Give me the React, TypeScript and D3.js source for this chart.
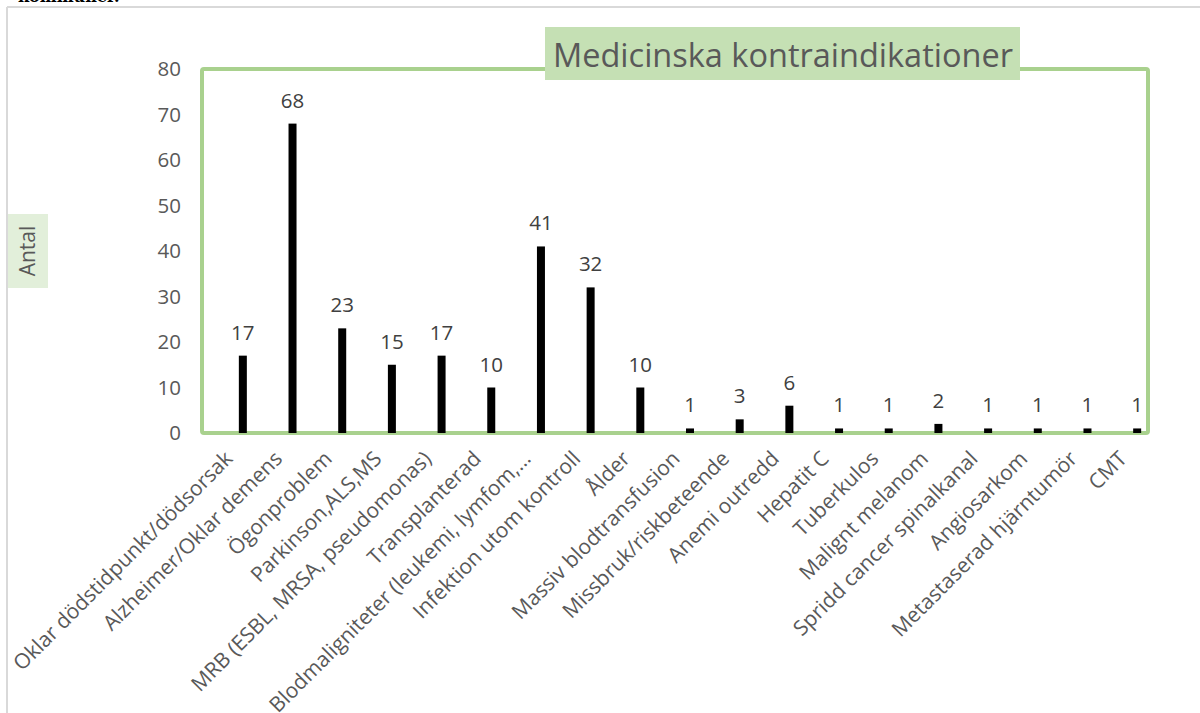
import React from "react";
import * as d3 from "d3";

const categories = [
  "Oklar dödstidpunkt/dödsorsak",
  "Alzheimer/Oklar demens",
  "Ögonproblem",
  "Parkinson,ALS,MS",
  "MRB (ESBL, MRSA, pseudomonas)",
  "Transplanterad",
  "Blodmaligniteter (leukemi, lymfom,…",
  "Infektion utom kontroll",
  "Ålder",
  "Massiv blodtransfusion",
  "Missbruk/riskbeteende",
  "Anemi outredd",
  "Hepatit C",
  "Tuberkulos",
  "Malignt melanom",
  "Spridd cancer spinalkanal",
  "Angiosarkom",
  "Metastaserad hjärntumör",
  "CMT",
];
const values = [17, 68, 23, 15, 17, 10, 41, 32, 10, 1, 3, 6, 1, 1, 2, 1, 1, 1, 1];
const yTicks = [0, 10, 20, 30, 40, 50, 60, 70, 80];
const title = "Medicinska kontraindikationer";
const yTitle = "Antal";

const FONT = "'Open Sans', 'Noto Sans', sans-serif";

export default function App() {
  const W = 1200, H = 713;
  const plot = { left: 202, right: 1148, top: 69, bottom: 433 };
  const x = d3.scaleBand<string>().domain(categories).range([218, 1162]);
  const y = d3.scaleLinear().domain([0, 80]).range([plot.bottom, plot.top]);
  const bw = 8;
  return (
    <svg width={W} height={H} style={{ position: "absolute", left: 0, top: 0, background: "#fff" }} fontFamily={FONT}>
      <text x={18} y={2} fontFamily="'DejaVu Serif', serif" fontWeight="bold" fontSize={16} fill="#000">kommuner.</text>
      <line x1={7} x2={W} y1={7} y2={7} stroke="#d9d9d9" strokeWidth={2} />
      <line x1={7} x2={7} y1={7} y2={H} stroke="#d9d9d9" strokeWidth={2} />
      <rect x={plot.left} y={plot.top} width={plot.right - plot.left} height={plot.bottom - plot.top}
        fill="none" stroke="#a9d18e" strokeWidth={4} rx={2} />
      {yTicks.map((t) => (
        <text key={t} x={181} y={y(t)} dy="0.36em" textAnchor="end" fontSize={20.5} fill="#595959">{t}</text>
      ))}
      {categories.map((c, i) => {
        const cx = x(c)! + x.bandwidth() / 2;
        return (
          <g key={c}>
            <rect x={cx - bw / 2} y={y(values[i])} width={bw} height={y(0) - y(values[i])} fill="#000" />
            <text x={cx} y={y(values[i]) - 16} textAnchor="middle" fontSize={20.5} fill="#404040">{values[i]}</text>
            <text transform={`translate(${cx - 9},${plot.bottom + 27}) rotate(-45)`} textAnchor="end"
              fontSize={21} fill="#595959">{c}</text>
          </g>
        );
      })}
      <rect x={545} y={27} width={475} height={53} fill="#c5e0b4" />
      <text x={783} y={67} textAnchor="middle" fontSize={32.5} fill="#595959">{title}</text>
      <rect x={8} y={214} width={40} height={74} fill="#e2efda" />
      <text transform="translate(35,251) rotate(-90)" textAnchor="middle" fontSize={21} fill="#595959">{yTitle}</text>
    </svg>
  );
}
